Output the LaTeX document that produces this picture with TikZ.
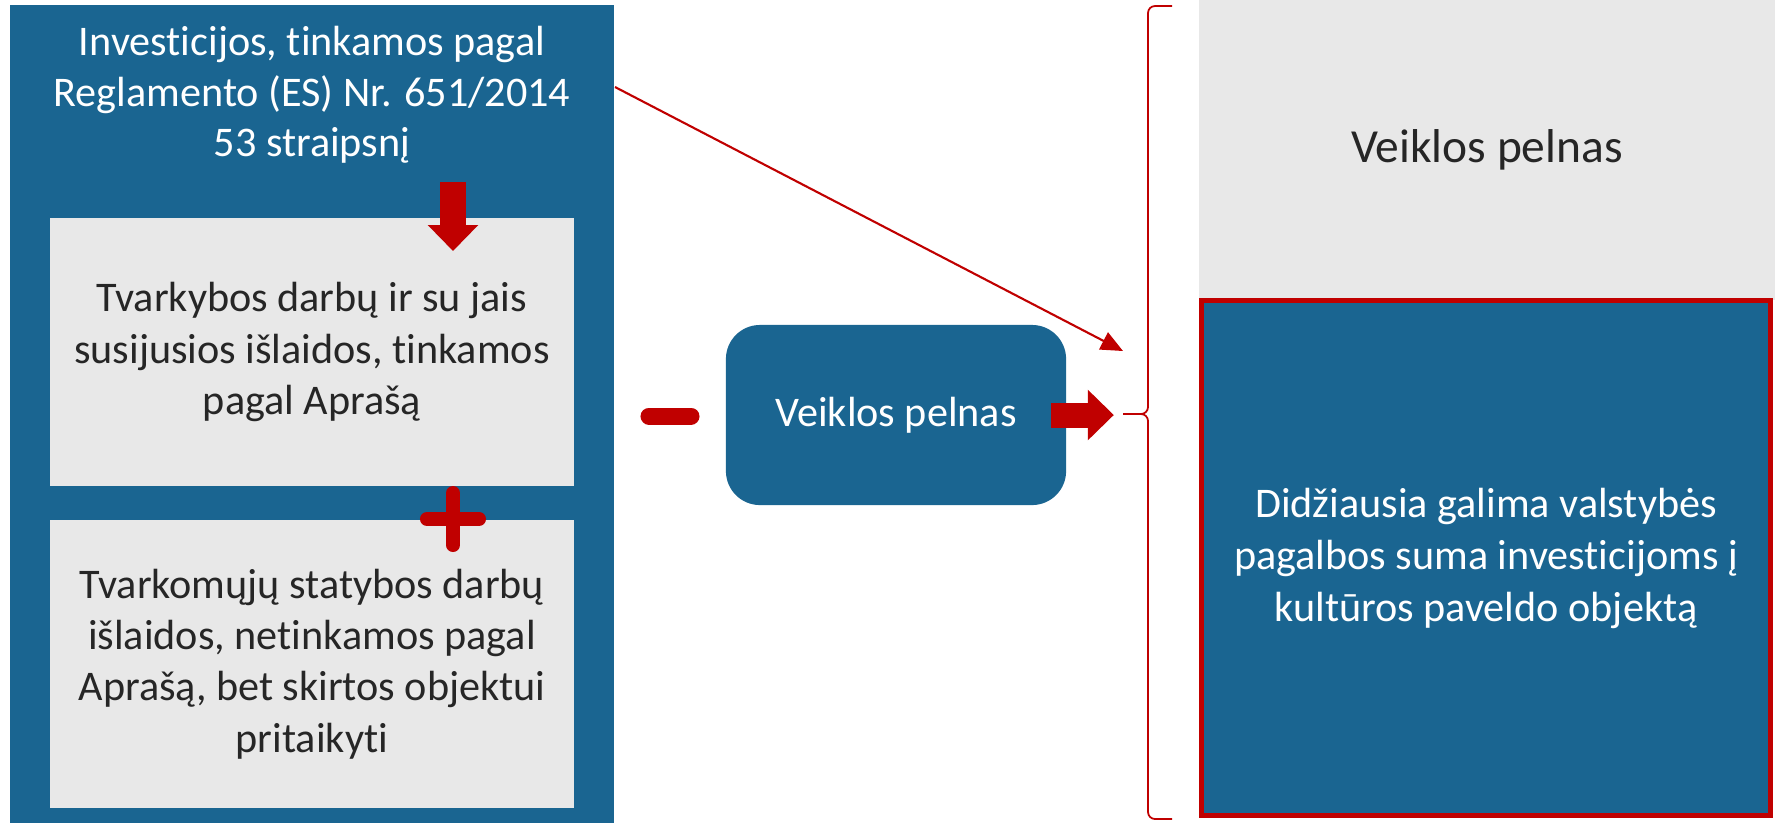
\documentclass[tikz,border=0pt]{standalone}
\usepackage{fontspec}
\setmainfont{Carlito}[Ligatures=NoCommon]
\usetikzlibrary{arrows.meta}
\definecolor{panelblue}{HTML}{1A6591}
\definecolor{boxgray}{HTML}{E8E8E8}
\definecolor{markred}{HTML}{C00000}
\definecolor{textdark}{HTML}{262626}

\begin{document}
\begin{tikzpicture}[x=0.01cm, y=-0.01cm,
  graybox/.style={rectangle, fill=boxgray, minimum width=5.24cm, inner sep=0pt, align=center, text=textdark, font=\fontsize{12}{14.6}\selectfont},
  blockarrow/.style={markred, line width=0.25cm, -{Triangle[length=0.26cm, width=0.49cm]}},
  signbar/.style={markred, line cap=round}]
\useasboundingbox (0,0) rectangle (1779,823);

% left column
\node (panel) [rectangle, fill=panelblue, minimum width=6.04cm, minimum height=8.18cm, inner sep=0pt] at (312,414) {};
\node (invest) [text=white, align=center, font=\fontsize{12}{14.4}\selectfont] at (312,95) {Investicijos, tinkamos pagal\\Reglamento (ES) Nr. 651/2014\\53 straipsnį};
\node (tvarkybos) [graybox, minimum height=2.68cm] at (312,352) {Tvarkybos darbų ir su jais\\susijusios išlaidos, tinkamos\\pagal Aprašą};
\node (statybos) [graybox, minimum height=2.88cm] at (312,664) {Tvarkomųjų statybos darbų\\išlaidos, netinkamos pagal\\Aprašą, bet skirtos objektui\\pritaikyti};

% middle
\node (pelnas) [rectangle, rounded corners=0.34cm, fill=panelblue, minimum width=3.4cm, minimum height=1.8cm, text=white, font=\fontsize{12}{14}\selectfont] at (896,415) {Veiklos pelnas};

% right column
\node (likutis) [rectangle, fill=boxgray, minimum width=5.76cm, minimum height=3cm, text=textdark, font=\fontsize{13.5}{16}\selectfont] at (1487,150) {Veiklos pelnas};
\node (pagalba) [rectangle, draw=markred, line width=0.05cm, fill=panelblue, minimum width=5.69cm, minimum height=5.15cm, text=white, align=center, font=\fontsize{12}{14.8}\selectfont] at (1486,558) {Didžiausia galima valstybės\\pagalbos suma investicijoms į\\kultūros paveldo objektą};

\coordinate (downtop) at (453,182);
\coordinate (downtip) at (453,251);
\coordinate (plus) at (453,519);
\coordinate (minus) at (670,416);
\coordinate (linestart) at (615,87);
\coordinate (lineend) at (1123,351);
\coordinate (bracetop) at (1172,6);
\coordinate (bracetip) at (1123,414);
\coordinate (bracebot) at (1172,819);

% signs and arrows
\draw[blockarrow] (downtop) -- (downtip);
\draw[signbar, line width=0.14cm] ([xshift=-0.26cm]plus) -- ([xshift=0.26cm]plus);
\draw[signbar, line width=0.14cm] ([yshift=0.26cm]plus) -- ([yshift=-0.26cm]plus);
\draw[signbar, line width=0.17cm] ([xshift=-0.21cm]minus) -- ([xshift=0.21cm]minus);
\draw[blockarrow] ([xshift=-0.16cm]pelnas.east) -- ([xshift=0.47cm]pelnas.east);
\draw[markred, line width=0.6pt, -{Triangle[length=0.22cm, width=0.19cm]}] (linestart) -- (lineend);

% brace
\draw[markred, line width=0.5pt, rounded corners=0.07cm]
  (bracetop) -- (1148,6) -- (1148,414) -- (bracetip)
  (bracetip) -- (1148,414) -- (1148,819) -- (bracebot);
\end{tikzpicture}
\end{document}
